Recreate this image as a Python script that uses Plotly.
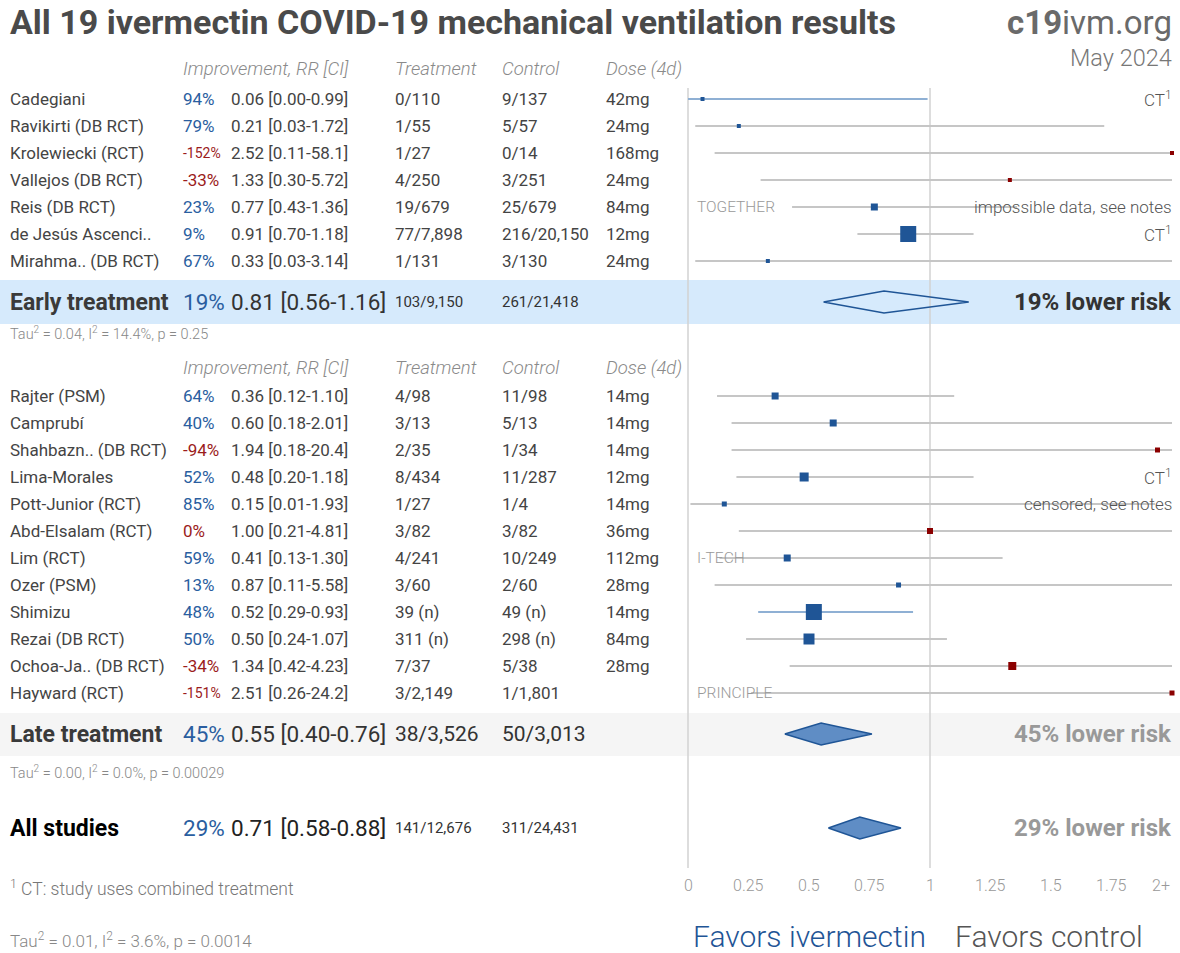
import plotly.graph_objects as go

W, H = 1180, 953

# ---------------- data ----------------
early_names = ["Cadegiani", "Ravikirti (DB RCT)", "Krolewiecki (RCT)", "Vallejos (DB RCT)",
               "Reis (DB RCT)", "de Jesús Ascenci..", "Mirahma.. (DB RCT)"]
early_rr = [0.06, 0.21, 2.52, 1.33, 0.77, 0.91, 0.33]
early_lo = [0.00, 0.03, 0.11, 0.30, 0.43, 0.70, 0.03]
early_hi = [0.99, 1.72, 58.1, 5.72, 1.36, 1.18, 3.14]
early_treat = ["0/110", "1/55", "1/27", "4/250", "19/679", "77/7,898", "1/131"]
early_ctrl = ["9/137", "5/57", "0/14", "3/251", "25/679", "216/20,150", "3/130"]
early_dose = ["42mg", "24mg", "168mg", "24mg", "84mg", "12mg", "24mg"]
early_weight = [4, 4, 4, 4, 7, 16, 4]
early_note_r = ["CT<sup>1</sup>", "", "", "", "impossible data, see notes", "CT<sup>1</sup>", ""]
early_note_l = ["", "", "", "", "TOGETHER", "", ""]

late_names = ["Rajter (PSM)", "Camprubí", "Shahbazn.. (DB RCT)", "Lima-Morales", "Pott-Junior (RCT)",
              "Abd-Elsalam (RCT)", "Lim (RCT)", "Ozer (PSM)", "Shimizu", "Rezai (DB RCT)",
              "Ochoa-Ja.. (DB RCT)", "Hayward (RCT)"]
late_rr = [0.36, 0.60, 1.94, 0.48, 0.15, 1.00, 0.41, 0.87, 0.52, 0.50, 1.34, 2.51]
late_lo = [0.12, 0.18, 0.18, 0.20, 0.01, 0.21, 0.13, 0.11, 0.29, 0.24, 0.42, 0.26]
late_hi = [1.10, 2.01, 20.4, 1.18, 1.93, 4.81, 1.30, 5.58, 0.93, 1.07, 4.23, 24.2]
late_treat = ["4/98", "3/13", "2/35", "8/434", "1/27", "3/82", "4/241", "3/60", "39 (n)", "311 (n)", "7/37", "3/2,149"]
late_ctrl = ["11/98", "5/13", "1/34", "11/287", "1/4", "3/82", "10/249", "2/60", "49 (n)", "298 (n)", "5/38", "1/1,801"]
late_dose = ["14mg", "14mg", "14mg", "12mg", "14mg", "36mg", "112mg", "28mg", "14mg", "84mg", "28mg", ""]
late_weight = [7, 7, 5, 9, 5, 6, 7, 5, 16, 11, 8, 5]
late_note_r = ["", "", "", "CT<sup>1</sup>", "censored, see notes", "", "", "", "", "", "", ""]
late_note_l = ["", "", "", "", "", "", "I-TECH", "", "", "", "", "PRINCIPLE"]

summary_labels = ["Early treatment", "Late treatment", "All studies"]
summary_rr = [0.81, 0.55, 0.71]
summary_lo = [0.56, 0.40, 0.58]
summary_hi = [1.16, 0.76, 0.88]
summary_treat = ["103/9,150", "38/3,526", "141/12,676"]
summary_ctrl = ["261/21,418", "50/3,013", "311/24,431"]
summary_stats = ["Tau<sup>2</sup> = 0.04, I<sup>2</sup> = 14.4%, p = 0.25",
                 "Tau<sup>2</sup> = 0.00, I<sup>2</sup> = 0.0%, p = 0.00029",
                 "Tau<sup>2</sup> = 0.01, I<sup>2</sup> = 3.6%, p = 0.0014"]

tick_vals = [0, 0.25, 0.5, 0.75, 1, 1.25, 1.5, 1.75, 2]
tick_text = ["0", "0.25", "0.5", "0.75", "1", "1.25", "1.5", "1.75", "2+"]

# ---------------- layout constants ----------------
X0_PX, UNIT_PX = 688, 242
XMAX = 2.0
BLUE = "#1f5596"
RED = "#8b0000"
FONT = "Roboto"
ROW_FS = 17

col_name, col_pct, col_rr, col_tr, col_ct, col_dose = 8, 181, 229, 393, 500, 604
early_y = [99 + 27 * i for i in range(len(early_names))]
late_y = [396 + 27 * i for i in range(len(late_names))]
summary_y = [302, 734, 828]

fig = go.Figure()


def T(x, y, s, size=ROW_FS, color="#444", anchor="left", weight=400, style="normal", xref="paper"):
    fig.add_annotation(x=(x / W if xref == "paper" else x), y=y, xref=xref, yref="y", text=s,
                       showarrow=False, xanchor=anchor, yanchor="middle",
                       font=dict(family=FONT, size=size, color=color, weight=weight, style=style))


# bands
fig.add_shape(type="rect", xref="paper", yref="y", x0=0, x1=1, y0=280, y1=324,
              fillcolor="#d6eafc", line_width=0, layer="below")
fig.add_shape(type="rect", xref="paper", yref="y", x0=0, x1=1, y0=713, y1=756,
              fillcolor="#f5f5f5", line_width=0, layer="below")

# vertical reference lines
for v in [0, 1]:
    fig.add_shape(type="line", xref="x", yref="y", x0=v, x1=v, y0=88, y1=868,
                  line=dict(color="#d2d2d2", width=1.5), layer="below")


def fmt_hi(v):
    return f"{v:.1f}" if v >= 10 else f"{v:.2f}"


def study_group(names, rr, lo, hi, tr, ct, dose, wt, note_r, note_l, ys):
    gx, gy, bx, by = [], [], [], []
    mx, my, ms, mc = [], [], [], []
    for i in range(len(names)):
        y = ys[i]
        x_lo, x_hi = lo[i], min(hi[i], XMAX)
        if hi[i] < 1:
            bx += [x_lo, x_hi, None]; by += [y, y, None]
        else:
            gx += [x_lo, x_hi, None]; gy += [y, y, None]
        mx.append(min(rr[i], XMAX)); my.append(y); ms.append(wt[i])
        mc.append(BLUE if rr[i] < 1 else RED)
        imp = round((1 - rr[i]) * 100)
        T(col_name, y, names[i])
        T(col_pct, y, f"{imp}%", size=(14 if abs(imp) >= 100 else ROW_FS),
          color=("#2a5ea0" if imp > 0 else "#9b1c1c"))
        T(col_rr, y, f"{rr[i]:.2f} [{lo[i]:.2f}-{fmt_hi(hi[i])}]")
        T(col_tr, y, tr[i])
        T(col_ct, y, ct[i])
        if dose[i]:
            T(col_dose, y, dose[i])
        if note_r[i]:
            T(1174, y, note_r[i], color="#555", anchor="right", weight=300)
        if note_l[i]:
            T(695, y, note_l[i], size=15.5, color="#999", weight=300)
    fig.add_trace(go.Scatter(x=gx, y=gy, mode="lines", line=dict(color="#c6c6c6", width=2),
                             hoverinfo="skip", showlegend=False))
    fig.add_trace(go.Scatter(x=bx, y=by, mode="lines", line=dict(color="#8fb0d4", width=2),
                             hoverinfo="skip", showlegend=False))
    fig.add_trace(go.Scatter(x=mx, y=my, mode="markers", opacity=1,
                             marker=dict(symbol="square", size=ms, color=mc, opacity=1,
                                         line=dict(width=0, color=mc)),
                             showlegend=False))


def headers(y):
    for x, s in [(col_pct, "Improvement, RR [CI]"), (col_tr, "Treatment"),
                 (col_ct, "Control"), (col_dose, "Dose (4d)")]:
        T(x, y, s, size=18.5, color="#8a8a8a", weight=300, style="italic")


headers(69)
study_group(early_names, early_rr, early_lo, early_hi, early_treat, early_ctrl, early_dose,
            early_weight, early_note_r, early_note_l, early_y)
headers(368)
study_group(late_names, late_rr, late_lo, late_hi, late_treat, late_ctrl, late_dose,
            late_weight, late_note_r, late_note_l, late_y)

# summary rows
label_colors = ["#3a3a3a", "#3a3a3a", "#000000"]
count_sizes = [15, 21, 15]
risk_colors = ["#333333", "#999999", "#999999"]
stat_pos = [(333, 14.5), (772, 14.5), (940, 17)]
for k in range(3):
    y = summary_y[k]
    d = 11
    fig.add_trace(go.Scatter(
        x=[summary_lo[k], summary_rr[k], summary_hi[k], summary_rr[k], summary_lo[k]],
        y=[y, y - d, y, y + d, y], mode="lines", fill=("toself" if k > 0 else None),
        fillcolor=("#5f8dc5" if k > 0 else None), line=dict(color=BLUE, width=1.5),
        hoverinfo="skip", showlegend=False))
    imp = round((1 - summary_rr[k]) * 100)
    T(col_name, y, summary_labels[k], size=23, color=label_colors[k], weight=700)
    T(col_pct, y, f"{imp}%", size=22.5, color="#2a5ea0")
    T(col_rr, y, f"{summary_rr[k]:.2f} [{summary_lo[k]:.2f}-{summary_hi[k]:.2f}]", size=22.5,
      color=("#222" if k == 2 else "#333"))
    T(col_tr, y, summary_treat[k], size=count_sizes[k], color="#333")
    T(col_ct, y, summary_ctrl[k], size=count_sizes[k], color="#333")
    T(1174, y, f"{imp}% lower risk", size=24, color=risk_colors[k], anchor="right", weight=700)
    sy, ss = stat_pos[k]
    T(col_name, sy, summary_stats[k], size=ss, color="#888", weight=300)

# axis tick labels
for v, s in zip(tick_vals, tick_text):
    T(v, 885, s, size=16, color="#999", anchor=("right" if s == "2+" else "center"),
      weight=300, xref="x")

# footnote, title, branding
T(col_name, 888, "<sup>1</sup> CT: study uses combined treatment", size=17.5, color="#777", weight=300)
T(8, 22, "All 19 ivermectin COVID-19 mechanical ventilation results", size=34, color="#4a4a4a", weight=700)
T(1174, 22, "<b>c19</b>ivm.org", size=33, color="#6a6a6a", anchor="right")
T(1174, 58, "May 2024", size=23.5, color="#777", anchor="right", weight=300)
T(809, 936, "Favors ivermectin", size=30, color=BLUE, anchor="center", weight=300)
T(1049, 936, "Favors control", size=30, color="#555", anchor="center", weight=300)

fig.update_layout(
    width=W, height=H, margin=dict(l=0, r=0, t=0, b=0),
    paper_bgcolor="white", plot_bgcolor="rgba(0,0,0,0)",
    xaxis=dict(range=[-X0_PX / UNIT_PX, (W - X0_PX) / UNIT_PX], visible=False, fixedrange=True),
    yaxis=dict(range=[H, 0], visible=False, fixedrange=True),
    showlegend=False,
)

fig.write_html("out.html", config={"displayModeBar": False},
               post_script="document.body.style.margin='0';document.body.style.overflow='hidden';")
